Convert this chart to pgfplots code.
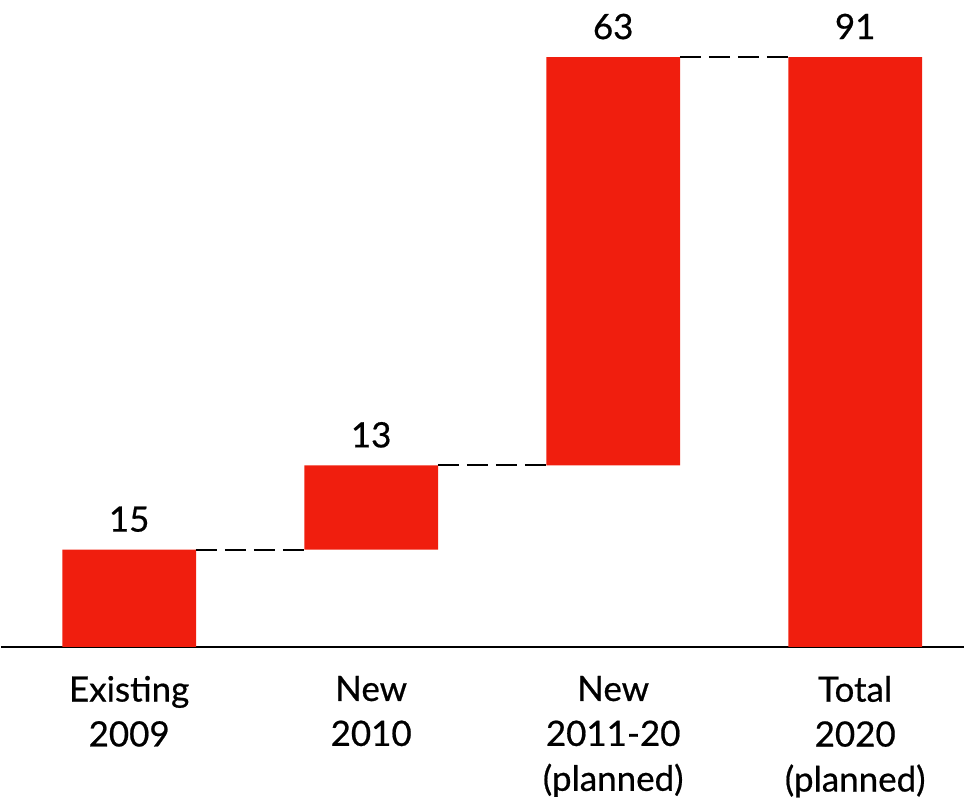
\documentclass[border=0pt]{standalone}
\usepackage{fontspec}
\setmainfont{Lato}[FakeBold=0.6]
\usepackage{pgfplots}
\pgfplotsset{compat=1.18}
\definecolor{barred}{RGB}{240,30,14}
\begin{document}
\begin{tikzpicture}
\pgfplotsset{wf/.style={scale only axis, width=965pt, height=648pt,
  xmin=-0.53, xmax=3.45, ymin=0, ymax=99.8, enlargelimits=false, clip=false}}
\begin{axis}[wf, ybar stacked, bar width=134pt,
  axis y line=none, axis x line=bottom,
  axis line style={-, line width=1.8pt},
  xtick={0,1,2,3},
  xticklabels={{Existing\\2009},{New\\2010},{New\\2011-20\\(planned)},{Total\\2020\\(planned)}},
  xticklabel style={align=center, font=\fontsize{35}{45}\selectfont, anchor=north, inner sep=0pt, yshift=-29pt},
  xtick style={draw=none}, major tick length=0pt]
\addplot[draw=none, fill=none] coordinates {(0,0) (1,15) (2,28) (3,0)};
\addplot[fill=barred, draw=none]
  coordinates {(0,15) (1,13) (2,63) (3,91)};
\end{axis}
\begin{axis}[wf, hide axis]
\addplot[draw=none, forget plot] coordinates {(-0.53,0) (-0.53,99.8)};
\addplot[black, line width=2pt, dash pattern=on 21pt off 8pt] coordinates {(0.276,15) (0.724,15)};
\addplot[black, line width=2pt, dash pattern=on 21pt off 8pt] coordinates {(1.276,28) (1.724,28)};
\addplot[black, line width=2pt, dash pattern=on 21pt off 8pt] coordinates {(2.276,91) (2.724,91)};
\addplot[only marks, mark=none, nodes near coords, point meta=explicit symbolic,
  nodes near coords style={font=\fontsize{35}{45}\selectfont, anchor=base, inner sep=0pt, yshift=18pt, text=black}]
  coordinates {(0,15)[15] (1,28)[13] (2,91)[63] (3,91)[91]};
\end{axis}
\end{tikzpicture}
\end{document}
